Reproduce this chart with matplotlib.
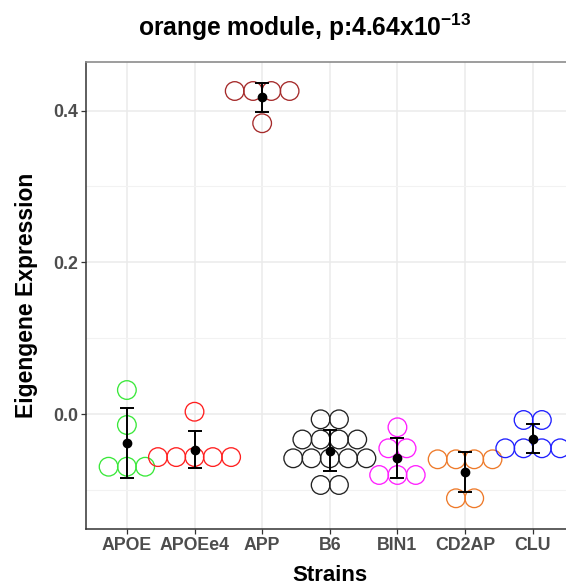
import numpy as np
import matplotlib
matplotlib.use("Agg")
import matplotlib.pyplot as plt

plt.rcParams['font.family'] = ['Liberation Sans', 'DejaVu Sans']
plt.rcParams['mathtext.fontset'] = 'custom'
plt.rcParams['mathtext.rm'] = 'Liberation Sans'
plt.rcParams['mathtext.it'] = 'Liberation Sans:italic'
plt.rcParams['mathtext.bf'] = 'Liberation Sans:bold'

# eigengene values per mouse, grouped by strain
strains = ['APOE', 'APOEe4', 'APP', 'B6', 'BIN1', 'CD2AP', 'CLU']
apoe = [0.0316, -0.0145, -0.0695, -0.0695, -0.0695]
apoee4 = [0.0030, -0.0568, -0.0568, -0.0568, -0.0568, -0.0568]
app = [0.4258, 0.4258, 0.4258, 0.4258, 0.3833]
b6 = [-0.0070, -0.0070, -0.0336, -0.0336, -0.0336, -0.0336,
      -0.0584, -0.0584, -0.0584, -0.0584, -0.0584, -0.0936, -0.0936]
bin1 = [-0.0175, -0.0452, -0.0452, -0.0804, -0.0804, -0.0804]
cd2ap = [-0.0597, -0.0597, -0.0597, -0.0597, -0.1111, -0.1111]
clu = [-0.0079, -0.0079, -0.0452, -0.0452, -0.0452, -0.0452]
values = [apoe, apoee4, app, b6, bin1, cd2ap, clu]
colors = ['#3ae83a', '#ff1f1f', '#a52a2a', '#222222', '#ff1fff', '#ee7a2a', '#1f1fff']

title_text = r'orange module, p:4.64x$\mathregular{10^{-13}}$'

fig = plt.figure(figsize=(5.66, 5.86), dpi=100)
ax = fig.add_axes([86.3 / 566, 57 / 586, 487 / 566, 467.5 / 586])

step = 0.2705  # horizontal spacing between stacked dots
for i, (vals, col) in enumerate(zip(values, colors)):
    levels, counts = np.unique(vals, return_counts=True)
    for lv, n in zip(levels, counts):
        xs = i + (np.arange(n) - (n - 1) / 2) * step
        ax.scatter(xs, [lv] * n, s=180, facecolors='none', edgecolors=col,
                   linewidths=0.95, zorder=3, clip_on=False)
    m = np.mean(vals)
    sd = np.std(vals, ddof=1)
    ax.errorbar(i, m, yerr=sd, fmt='o', color='black', ms=6, elinewidth=1.4,
                capsize=4.8, capthick=1.4, zorder=4)

ax.set_xlim(-0.6, 6.6)
ax.set_ylim(-0.1516, 0.4647)
ax.set_xticks(range(len(strains)))
ax.set_xticklabels(strains)
ax.set_yticks([0.0, 0.2, 0.4])
ax.set_yticklabels(['0.0', '0.2', '0.4'])
ax.set_yticks([-0.1, 0.1, 0.3], minor=True)

ax.grid(which='major', color='#ebebeb', linewidth=1.1, zorder=0)
ax.grid(which='minor', axis='y', color='#f2f2f2', linewidth=0.8, zorder=0)
ax.set_axisbelow(True)

ax.tick_params(axis='both', which='major', length=3.6, width=0.9, color='#333333',
               labelsize=12.8, labelcolor='#4d4d4d', pad=2.5)
ax.tick_params(axis='y', which='minor', length=0)
for lab in ax.get_xticklabels() + ax.get_yticklabels():
    lab.set_fontweight('bold')

ax.spines['top'].set_color('#8c8c8c')
ax.spines['top'].set_linewidth(1.2)
ax.spines['right'].set_visible(False)
for side in ['left', 'bottom']:
    ax.spines[side].set_color('#333333')
    ax.spines[side].set_linewidth(1.1)

fig.text(26.7 / 566, 1 - 295 / 586, 'Eigengene Expression', rotation=90,
         ha='center', va='center', fontsize=16.5, fontweight='bold')
fig.text(330 / 566, 5 / 586, 'Strains', ha='center', va='baseline',
         fontsize=16, fontweight='bold')
fig.text(138 / 566, 1 - 35.7 / 586, title_text, ha='left', va='baseline',
         fontsize=17.7, fontweight='bold')

fig.savefig('out.png', dpi=100)
